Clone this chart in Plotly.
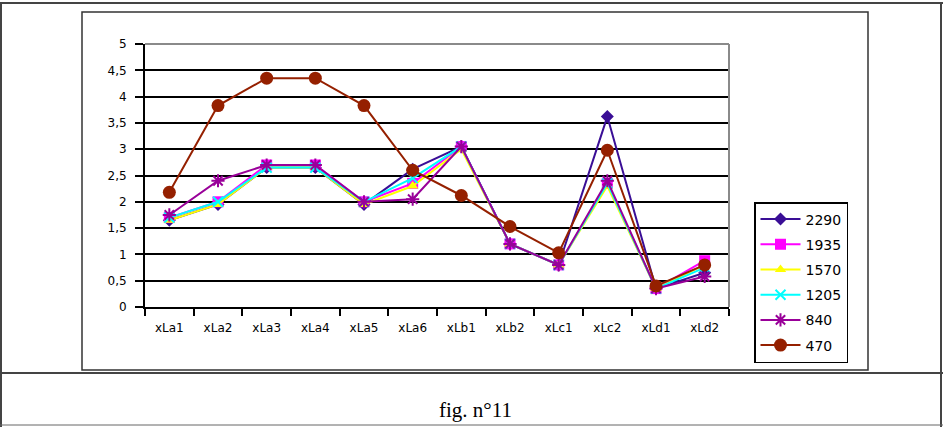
import plotly.graph_objects as go

categories = ["xLa1", "xLa2", "xLa3", "xLa4", "xLa5", "xLa6",
              "xLb1", "xLb2", "xLc1", "xLc2", "xLd1", "xLd2"]

s2290 = [1.65, 1.95, 2.65, 2.65, 1.95, 2.62, 3.05, 1.2, 0.8, 3.62, 0.35, 0.65]
s1935 = [1.7, 2.0, 2.7, 2.7, 2.0, 2.35, 3.05, 1.2, 0.8, 2.35, 0.35, 0.88]
s1570 = [1.65, 1.95, 2.65, 2.65, 1.95, 2.3, 3.0, 1.2, 0.8, 2.3, 0.35, 0.8]
s1205 = [1.7, 2.0, 2.65, 2.65, 2.0, 2.45, 3.05, 1.2, 0.8, 2.35, 0.35, 0.75]
s840 = [1.75, 2.4, 2.7, 2.7, 2.0, 2.05, 3.05, 1.2, 0.8, 2.4, 0.35, 0.58]
s470 = [2.18, 3.83, 4.35, 4.35, 3.83, 2.6, 2.12, 1.53, 1.03, 2.98, 0.4, 0.8]

series_names = ["2290", "1935", "1570", "1205", "840", "470"]
series_values = [s2290, s1935, s1570, s1205, s840, s470]
colors = ["#3a0e96", "#ff00ff", "#ffff00", "#00ffff", "#990099", "#952000"]
symbols = ["diamond", "square", "triangle-up", "x-thin", "asterisk", "circle"]
sizes = [10, 11, 10, 10, 11, 13]

ytick_vals = [0, 0.5, 1, 1.5, 2, 2.5, 3, 3.5, 4, 4.5, 5]
ytick_text = ["0", "0,5", "1", "1,5", "2", "2,5", "3", "3,5", "4", "4,5", "5"]

W, H = 943, 427
L, R, T, B = 145, 729, 44, 307


def px(x):
    return (x - L) / (R - L)


def py(y):
    return (B - y) / (B - T)


fig = go.Figure()
for i, (name, vals) in enumerate(zip(series_names, series_values)):
    sym = symbols[i]
    marker = dict(symbol=sym, size=sizes[i], color=colors[i])
    if sym in ("x-thin", "asterisk"):
        marker["line"] = dict(color=colors[i], width=2)
    else:
        marker["line"] = dict(width=0)
    fig.add_trace(go.Scatter(
        x=categories, y=vals, name=name, mode="lines+markers",
        line=dict(color=colors[i], width=2),
        marker=marker, legendgroup=name,
    ))

shapes = []
# page table borders
shapes.append(dict(type="line", xref="paper", yref="paper",
                   x0=px(0), x1=px(943), y0=py(3), y1=py(3),
                   line=dict(color="#444", width=2)))
shapes.append(dict(type="line", xref="paper", yref="paper",
                   x0=px(1), x1=px(1), y0=py(3), y1=py(427),
                   line=dict(color="#444", width=2)))
shapes.append(dict(type="line", xref="paper", yref="paper",
                   x0=px(941), x1=px(941), y0=py(3), y1=py(427),
                   line=dict(color="#444", width=2)))
shapes.append(dict(type="line", xref="paper", yref="paper",
                   x0=px(0), x1=px(943), y0=py(373), y1=py(373),
                   line=dict(color="#444", width=2)))
shapes.append(dict(type="line", xref="paper", yref="paper",
                   x0=px(0), x1=px(943), y0=py(425), y1=py(425),
                   line=dict(color="#666", width=1)))
# chart box
shapes.append(dict(type="rect", xref="paper", yref="paper",
                   x0=px(82), x1=px(868), y0=py(12), y1=py(370),
                   line=dict(color="#333", width=1.5)))
# plot area gray border (top/right)
shapes.append(dict(type="line", xref="paper", yref="paper",
                   x0=0, x1=1, y0=1, y1=1,
                   line=dict(color="#8a8a8a", width=2)))
shapes.append(dict(type="line", xref="paper", yref="paper",
                   x0=1, x1=1, y0=0, y1=1,
                   line=dict(color="#8a8a8a", width=2)))

tick_font = dict(family="DejaVu Sans, Liberation Sans, Arial", size=12, color="black")

fig.update_layout(
    width=W, height=H,
    margin=dict(l=L, r=W - R, t=T, b=H - B),
    paper_bgcolor="white", plot_bgcolor="white",
    font=tick_font,
    shapes=shapes,
    showlegend=True,
    legend=dict(
        x=px(754), y=py(202), xanchor="left", yanchor="top",
        bgcolor="white", bordercolor="black", borderwidth=1.5,
        font=dict(family="DejaVu Sans, Liberation Sans, Arial", size=14, color="black"),
        tracegroupgap=4, itemwidth=40,
    ),
    xaxis=dict(
        showgrid=False, showline=True, linecolor="black", linewidth=2,
        ticks="outside", ticklen=7, tickcolor="black", tickwidth=2,
        tickson="boundaries", tickfont=tick_font,
        ticklabelstandoff=9,
        range=[-0.5, 11.5], fixedrange=True,
    ),
    yaxis=dict(
        range=[0, 5], tickvals=ytick_vals, ticktext=ytick_text,
        showgrid=True, gridcolor="black", gridwidth=1.5,
        showline=True, linecolor="black", linewidth=2,
        ticks="outside", ticklen=8, tickcolor="black", tickwidth=2,
        ticklabelstandoff=6,
        zeroline=False, tickfont=tick_font,
    ),
    annotations=[dict(
        text="fig. n°11", xref="paper", yref="paper",
        x=px(475), y=py(410), xanchor="center", yanchor="middle",
        showarrow=False,
        font=dict(family="Liberation Serif, Times New Roman", size=21, color="black"),
    )],
)

fig.write_html("out.html")
